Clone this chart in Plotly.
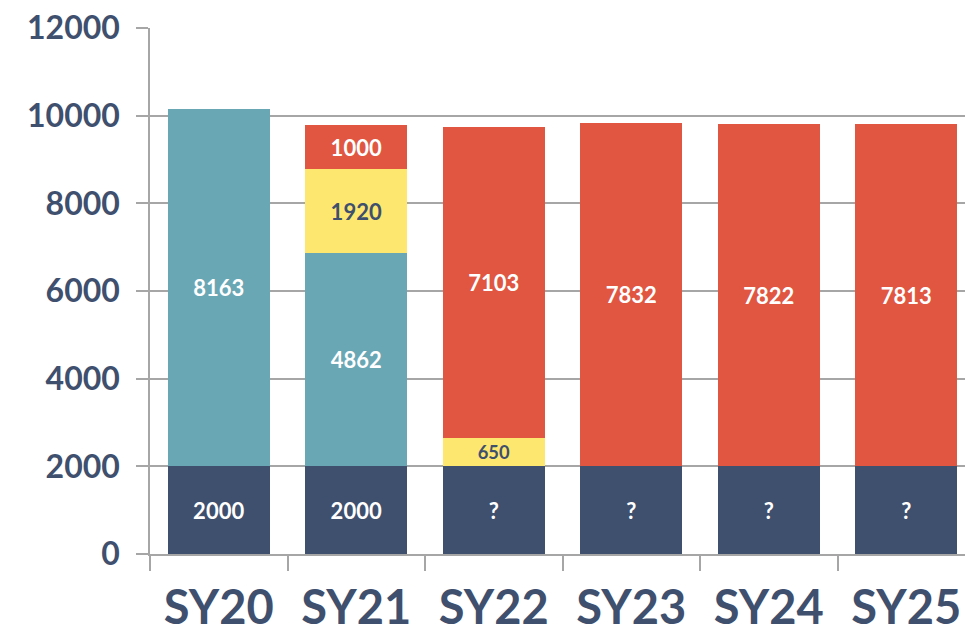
import plotly.graph_objects as go

categories = ["SY20", "SY21", "SY22", "SY23", "SY24", "SY25"]
base_vals = [2000, 2000, 2000, 2000, 2000, 2000]
base_text = ["2000", "2000", "?", "?", "?", "?"]
teal_vals = [8163, 4862, None, None, None, None]
yellow_vals = [None, 1920, 650, None, None, None]
red_vals = [None, 1000, 7103, 7832, 7822, 7813]
y_ticks = [0, 2000, 4000, 6000, 8000, 10000, 12000]

NAVY = "#3F4F6E"
TEAL = "#6AA7B5"
YELLOW = "#FDE76E"
RED = "#E05641"
GRID = "#A6A6A6"
FONT = "Lato"

def lab(v):
    return [("" if x is None else str(x)) for x in v]

fig = go.Figure()
series = [
    (base_vals, base_text, NAVY, "white"),
    (teal_vals, lab(teal_vals), TEAL, "white"),
    (yellow_vals, lab(yellow_vals), YELLOW, NAVY),
    (red_vals, lab(red_vals), RED, "white"),
]
for vals, txt, col, tcol in series:
    fig.add_trace(go.Bar(
        x=categories, y=vals, text=txt, texttemplate="%{text}",
        marker=dict(color=col, line=dict(width=0)),
        textposition="inside", insidetextanchor="middle", textangle=0,
        textfont=dict(family=FONT, size=22, color=tcol, weight="bold"),
        showlegend=False, hoverinfo="skip",
    ))

fig.update_layout(
    barmode="stack", bargap=0.26,
    width=973, height=633,
    margin=dict(l=142, r=6, t=20, b=87, autoexpand=False),
    plot_bgcolor="white", paper_bgcolor="white",
    font=dict(family=FONT, color=NAVY),
)
fig.update_xaxes(
    type="category", tickson="boundaries",
    ticks="outside", ticklen=15, tickwidth=1.5, tickcolor=GRID,
    showline=True, linecolor=GRID, linewidth=1.5,
    tickfont=dict(family=FONT, size=47, color=NAVY, weight="bold"),
    ticklabelstandoff=12,
    showgrid=False, automargin=False,
)
fig.update_yaxes(
    range=[0, 12005], tickvals=y_ticks, ticktext=[str(t) for t in y_ticks],
    ticks="outside", ticklen=12, tickwidth=1.5, tickcolor=GRID,
    showline=True, linecolor=GRID, linewidth=1.5,
    showgrid=True, gridcolor=GRID, gridwidth=1.5, zeroline=False,
    tickfont=dict(family=FONT, size=32, color=NAVY, weight="bold"),
    ticklabelstandoff=10, ticklabeloverflow="allow", automargin=False,
)

fig.write_html("out.html")
